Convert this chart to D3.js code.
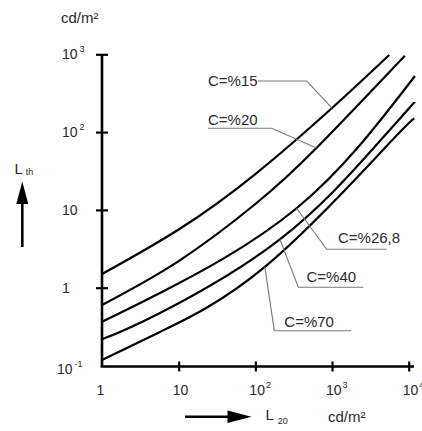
<!DOCTYPE html>
<html>
<head>
<meta charset="utf-8">
<script src="https://cdn.jsdelivr.net/npm/d3@7"></script>
<style>
  html, body { margin: 0; padding: 0; background: #fff; }
  svg { display: block; font-family: "Liberation Sans", Arial, sans-serif; }
</style>
</head>
<body>
<svg id="chart" width="422" height="431"></svg>
<script>
// Threshold luminance L_th against adaptation luminance L_20, one curve per contrast C.
const xTicks = [1, 10, 100, 1000, 10000];
const xTickBase = ["1", "10", "10", "10", "10"];
const xTickExp = ["", "", "2", "3", "4"];
const yTicks = [0.1, 1, 10, 100, 1000];
const yTickBase = ["10", "1", "10", "10", "10"];
const yTickExp = ["-1", "", "", "2", "3"];

const contrastLabels = ["C=%15", "C=%20", "C=%26,8", "C=%40", "C=%70"];
const curveC15 = [[1, 1.5], [10, 5.6], [100, 28.9], [1000, 204], [5570, 980]];
const curveC20 = [[1, 0.6], [10, 2.2], [100, 11.9], [627, 62.5], [8900, 959]];
const curveC268 = [[1, 0.366], [5.7, 0.855], [345, 10.5], [12050, 526]];
const curveC40 = [[1, 0.217], [5.7, 0.473], [209, 4.19], [3310, 58.9], [12050, 246]];
const curveC70 = [[1, 0.118], [5.7, 0.27], [133, 1.85], [4610, 58.9], [11800, 150]];
// point on each curve where its label's leader line ends
const leaderTargets = [[1000, 204], [627, 62.5], [345, 10.5], [209, 4.19], [133, 1.85]];

const svg = d3.select("#chart");
const x = d3.scaleLog().domain([1, 10000]).range([102, 408.7]);
const y = d3.scaleLog().domain([0.1, 1000]).range([365.5, 54.3]);

// axes
const yAxis = d3.axisLeft(y).tickValues(yTicks.slice(1)).tickFormat("").tickSizeOuter(0);
const gy = svg.append("g").attr("transform", "translate(102,0)").call(yAxis);
gy.select(".domain").attr("d", `M0,${y(1000)}V${y(0.1) + 1.5}`).attr("stroke", "#000").attr("stroke-width", 2.6);
gy.selectAll(".tick line").attr("x1", -6).attr("x2", 6).attr("stroke", "#000").attr("stroke-width", 2.2);

const xAxis = d3.axisBottom(x).tickValues(xTicks.slice(1)).tickFormat("").tickSizeOuter(0);
const gx = svg.append("g").attr("transform", "translate(0,366.5)").call(xAxis);
gx.select(".domain").attr("d", `M${x(1) - 1.3},0H414`).attr("stroke", "#000").attr("stroke-width", 2.6);
gx.selectAll(".tick line").attr("y1", -5).attr("y2", 5).attr("stroke", "#000").attr("stroke-width", 2.2);

// tick labels with superscript exponents
const labelColor = "#2a2a2a";
yTicks.forEach((v, i) => {
  const t = svg.append("text")
    .attr("x", i === 0 ? 57 : 62)
    .attr("y", y(v) + 5 + (i === 0 ? 3 : 0))
    .attr("font-size", 14).attr("fill", labelColor);
  t.append("tspan").text(yTickBase[i]);
  if (yTickExp[i]) t.append("tspan").attr("dx", 2).attr("dy", -7).attr("font-size", 9).text(yTickExp[i]);
});
xTicks.forEach((v, i) => {
  const t = svg.append("text")
    .attr("x", x(v) - (i === 0 ? 5.5 : 6))
    .attr("y", 395)
    .attr("font-size", 14).attr("fill", labelColor);
  t.append("tspan").text(xTickBase[i]);
  if (xTickExp[i]) t.append("tspan").attr("dx", 1).attr("dy", -7).attr("font-size", 9).text(xTickExp[i]);
});

// curves
const line = d3.line().x(d => x(d[0])).y(d => y(d[1])).curve(d3.curveNatural);
[curveC15, curveC20, curveC268, curveC40, curveC70].forEach(c => {
  svg.append("path").attr("d", line(c)).attr("fill", "none")
    .attr("stroke", "#000").attr("stroke-width", 2.2).attr("stroke-linejoin", "round");
});

// contrast labels with leader lines
const labelLayout = [
  { tx: 208, ty: 86, ux0: 258, ux1: 306.7, uy: 81 },
  { tx: 208, ty: 125, ux0: 208, ux1: 271.7, uy: 128.3 },
  { tx: 338, ty: 243, ux0: 386.7, ux1: 326.7, uy: 249.3 },
  { tx: 306.5, ty: 282, ux0: 363.3, ux1: 298.3, uy: 287.3 },
  { tx: 284.3, ty: 326.5, ux0: 351, ux1: 274.3, uy: 330.7 }
];
labelLayout.forEach((L, i) => {
  const tgt = leaderTargets[i];
  svg.append("path")
    .attr("d", `M${L.ux0},${L.uy}H${L.ux1}L${x(tgt[0])},${y(tgt[1])}`)
    .attr("fill", "none").attr("stroke", "#7a7a7a").attr("stroke-width", 1.1);
  svg.append("text").attr("x", L.tx).attr("y", L.ty)
    .attr("font-size", 15).attr("fill", "#2a2a2a").text(contrastLabels[i]);
});

// unit and axis titles
svg.append("text").attr("x", 61).attr("y", 23).attr("font-size", 15).attr("fill", labelColor).text("cd/m²");
svg.append("text").attr("x", 328).attr("y", 421.5).attr("font-size", 15).attr("fill", labelColor).text("cd/m²");

const lth = svg.append("text").attr("x", 14.5).attr("y", 173.5).attr("font-size", 15).attr("fill", labelColor);
lth.append("tspan").text("L");
lth.append("tspan").attr("dx", 3).attr("dy", 1.5).attr("font-size", 9).text("th");

const l20 = svg.append("text").attr("x", 265.5).attr("y", 419.5).attr("font-size", 15).attr("fill", labelColor);
l20.append("tspan").text("L");
l20.append("tspan").attr("dx", 4).attr("dy", 4).attr("font-size", 9).text("20");

// arrows
svg.append("line").attr("x1", 22.3).attr("y1", 247).attr("x2", 22.3).attr("y2", 200)
  .attr("stroke", "#000").attr("stroke-width", 2.6);
svg.append("path").attr("d", "M22.3,181.5L28.3,204L16.3,204Z").attr("fill", "#000");
svg.append("line").attr("x1", 185).attr("y1", 416.8).attr("x2", 232).attr("y2", 416.8)
  .attr("stroke", "#000").attr("stroke-width", 2.6);
svg.append("path").attr("d", "M251.5,416.8L227.5,410.5L227.5,423.1Z").attr("fill", "#000");
</script>
</body>
</html>
